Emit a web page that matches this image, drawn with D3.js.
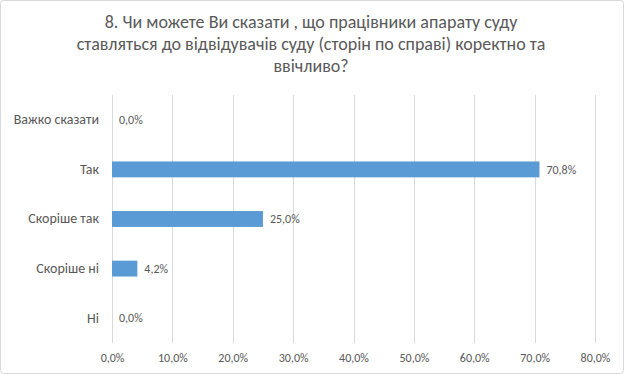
<!DOCTYPE html>
<html>
<head>
<meta charset="utf-8">
<script src="https://cdn.jsdelivr.net/npm/d3@7"></script>
<style>
html,body{margin:0;padding:0;background:#fff;}
svg{display:block;}
text{font-family:Carlito,"Liberation Sans","Open Sans",sans-serif;}
</style>
</head>
<body>
<svg id="chart" width="624" height="374"></svg>
<script>
const titleLines = [
  "8. Чи можете Ви сказати , що працівники апарату суду",
  "ставляться до відвідувачів суду (сторін по справі) коректно та",
  "ввічливо?"
];
const categories = ["Важко сказати", "Так", "Скоріше так", "Скоріше ні", "Ні"];
const values = [0.0, 70.8, 25.0, 4.2, 0.0];
const tickValues = [0, 10, 20, 30, 40, 50, 60, 70, 80];

const svg = d3.select("#chart");
const W = 624, H = 374;
const fmt = v => v.toFixed(1).replace(".", ",") + "%";

svg.append("rect").attr("x", 0.5).attr("y", 0.5).attr("width", W - 1).attr("height", H - 1)
  .attr("rx", 3).attr("fill", "#fff").attr("stroke", "#d9d9d9");

svg.append("g").selectAll("text").data(titleLines).join("text")
  .attr("x", 311).attr("y", (d, i) => 28 + i * 22)
  .attr("text-anchor", "middle").attr("fill", "#595959")
  .style("font-size", "18px").text(d => d);

const margin = {left: 112, right: 29, top: 95, bottom: 31};
const x = d3.scaleLinear().domain([0, 80]).range([margin.left, W - margin.right]);
const y = d3.scaleBand().domain(categories).range([margin.top, H - margin.bottom]).paddingInner(0.68).paddingOuter(0.34);

const grid = svg.append("g");
grid.selectAll("line").data(tickValues).join("line")
  .attr("x1", d => Math.round(x(d)) + 0.5).attr("x2", d => Math.round(x(d)) + 0.5)
  .attr("y1", margin.top).attr("y2", H - margin.bottom)
  .attr("stroke", "#d9d9d9").attr("stroke-width", 1);

const xAxis = d3.axisBottom(x).tickValues(tickValues).tickFormat(fmt).tickSize(0).tickPadding(10);
const gx = svg.append("g").attr("transform", `translate(0,${H - margin.bottom})`).call(xAxis);
gx.select(".domain").remove();
gx.selectAll("text").attr("fill", "#595959").style("font-size", "12px")
  .style("font-family", 'Carlito,"Liberation Sans",sans-serif');

const yAxis = d3.axisLeft(y).tickSize(0).tickPadding(13);
const gy = svg.append("g").attr("transform", `translate(${margin.left},0)`).call(yAxis);
gy.select(".domain").remove();
gy.selectAll("text").attr("fill", "#595959").style("font-size", "14px")
  .style("font-family", 'Carlito,"Liberation Sans",sans-serif');

const data = categories.map((c, i) => ({c, v: values[i]}));
svg.append("g").selectAll("rect").data(data).join("rect")
  .attr("x", x(0)).attr("y", d => y(d.c))
  .attr("width", d => x(d.v) - x(0)).attr("height", y.bandwidth())
  .attr("fill", "#5b9bd5");

svg.append("g").selectAll("text").data(data).join("text")
  .attr("x", d => x(d.v) + 7).attr("y", d => y(d.c) + y.bandwidth() / 2)
  .attr("dy", "0.35em").attr("fill", "#595959").style("font-size", "12px")
  .text(d => fmt(d.v));
</script>
</body>
</html>
